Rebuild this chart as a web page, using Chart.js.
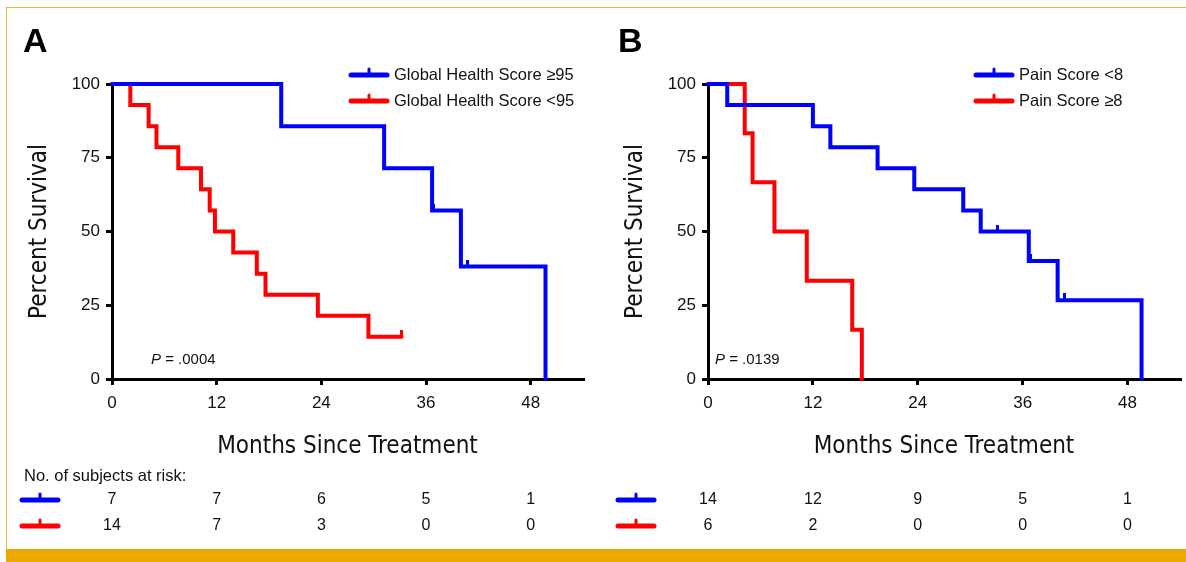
<!DOCTYPE html>
<html>
<head>
<meta charset="utf-8">
<script src="https://cdn.jsdelivr.net/npm/chart.js@4.4.0/dist/chart.umd.min.js"></script>
<style>
  html, body { margin: 0; padding: 0; background: #fff; }
  #page { position: relative; width: 1186px; height: 562px; overflow: hidden; background: #fff; }
  #frame { position: absolute; left: 6px; top: 7px; width: 1190px; height: 560px; border-left: 1px solid #f2b632; border-top: 1px solid #f2b632; }
  #band { position: absolute; left: 6px; right: 0; top: 549px; height: 13px; background: #eba800; }
  canvas { position: absolute; top: 0; }
  .letter { position: absolute; top: 23px; font: bold 34px "Liberation Sans", Arial, sans-serif; line-height: 34px; color: #000; }
  #atrisk { position: absolute; left: 24px; top: 466px; font: 16.5px "Liberation Sans", Arial, sans-serif; line-height: 18px; color: #111; }
</style>
</head>
<body>
<div id="page">
  <div id="frame"></div>
  <div id="band"></div>
  <canvas id="chartA" width="596" height="549" style="left:0px"></canvas>
  <canvas id="chartB" width="590" height="549" style="left:596px"></canvas>
  <div class="letter" style="left:23px">A</div>
  <div class="letter" style="left:618px">B</div>
  <div id="atrisk">No. of subjects at risk:</div>
</div>
<script>
// eje x (meses) y eje y (% sobrevida)
const xTicks = [0, 12, 24, 36, 48];
const yTicks = [0, 25, 50, 75, 100];

// Panel A - Global Health Score
const ghsHighMonths = [0, 19.4, 31.2, 36.7, 40.0, 49.7];
const ghsHighSurv = [100, 85.7, 71.4, 57.1, 38.1, 0];
const ghsHighCensMonths = [36.9, 40.8];
const ghsHighCensSurv = [57.1, 38.1];

const ghsLowMonths = [0, 2.1, 4.2, 5.1, 7.6, 10.2, 11.2, 11.8, 13.9, 16.6, 17.6, 23.6, 29.4, 33.2];
const ghsLowSurv = [100, 92.9, 85.7, 78.6, 71.4, 64.3, 57.1, 50.0, 42.9, 35.7, 28.6, 21.4, 14.3, 14.3];
const ghsLowCensMonths = [33.2];
const ghsLowCensSurv = [14.3];

// Panel B - Pain Score
const painLowMonths = [0, 2.2, 12.0, 14.0, 19.4, 23.6, 29.2, 31.2, 36.7, 40.0, 49.6];
const painLowSurv = [100, 92.9, 85.7, 78.6, 71.4, 64.3, 57.1, 50.0, 40.0, 26.7, 0];
const painLowCensMonths = [33.1, 36.9, 40.8];
const painLowCensSurv = [50.0, 40.0, 26.7];

const painHighMonths = [0, 4.2, 5.1, 7.6, 11.3, 16.5, 17.6];
const painHighSurv = [100, 83.3, 66.7, 50.0, 33.3, 16.7, 0];

// sujetos en riesgo en cada tick
const riskGhsHigh = [7, 7, 6, 5, 1];
const riskGhsLow = [14, 7, 3, 0, 0];
const riskPainLow = [14, 12, 9, 5, 1];
const riskPainHigh = [6, 2, 0, 0, 0];

const BLUE = "#0000ff";
const RED = "#ff0000";
const SANS = '"Liberation Sans", Arial, sans-serif';
const NARROW = '"Liberation Sans Narrow", "Arial Narrow", "DejaVu Sans Condensed", sans-serif';

function toPoints(xs, ys) {
  return xs.map((x, i) => ({ x: x, y: ys[i] }));
}

// marca de censura: barrita vertical sobre la curva
function censorMark(color) {
  const c = document.createElement("canvas");
  c.width = 3; c.height = 14;
  const g = c.getContext("2d");
  g.fillStyle = color;
  g.fillRect(0, 0, 3, 7);
  return c;
}

function curve(label, xs, ys, color) {
  return {
    label: label, data: toPoints(xs, ys), borderColor: color, borderWidth: 4,
    stepped: true, pointRadius: 0, fill: false, clip: false,
    borderCapStyle: "round", borderJoinStyle: "miter"
  };
}

function censors(xs, ys, color) {
  return {
    data: toPoints(xs, ys), showLine: false, pointStyle: censorMark(color),
    pointRadius: 4, clip: false
  };
}

function drawLegendIcon(ctx, x, y, color) {
  ctx.save();
  ctx.strokeStyle = color;
  ctx.lineCap = "round";
  ctx.lineWidth = 5;
  ctx.beginPath();
  ctx.moveTo(x, y);
  ctx.lineTo(x + 36, y);
  ctx.stroke();
  ctx.lineWidth = 3;
  ctx.beginPath();
  ctx.moveTo(x + 18, y);
  ctx.lineTo(x + 18, y - 6);
  ctx.stroke();
  ctx.restore();
}

// leyenda, valor P y tabla de riesgo
const extrasPlugin = {
  id: "extras",
  afterDraw(chart, args, opts) {
    const ctx = chart.ctx;
    const xs = chart.scales.x;
    ctx.save();
    ctx.textBaseline = "middle";
    ctx.fillStyle = "#111";
    ctx.font = "16.5px " + SANS;
    opts.legend.forEach((item, i) => {
      const y = opts.legendY[i];
      drawLegendIcon(ctx, opts.legendX, y, item.color);
      ctx.fillStyle = "#111";
      ctx.textAlign = "left";
      ctx.fillText(item.text, opts.legendX + 43, y);
    });

    // valor P
    ctx.font = "italic 15px " + SANS;
    ctx.fillText("P", opts.pX, opts.pY);
    const w = ctx.measureText("P").width;
    ctx.font = "15px " + SANS;
    ctx.fillText(" = " + opts.pValue, opts.pX + w, opts.pY);

    // sujetos en riesgo
    ctx.font = "16px " + SANS;
    ctx.textAlign = "center";
    opts.risk.forEach((row, r) => {
      const y = opts.riskY[r];
      drawLegendIcon(ctx, 22, y, row.color);
      ctx.fillStyle = "#111";
      row.values.forEach((v, i) => {
        ctx.fillText(String(v), xs.getPixelForValue(xTicks[i]), y);
      });
    });
    ctx.restore();
  }
};

function makeChart(id, datasets, extras, rightPad) {
  const axisCommon = {
    type: "linear",
    border: { display: true, color: "#000", width: 3 },
    grid: { drawOnChartArea: false, color: "#000", lineWidth: 3, tickLength: 6 },
  };
  return new Chart(document.getElementById(id), {
    type: "line",
    data: { datasets: datasets },
    options: {
      responsive: false,
      animation: false,
      layout: { padding: { left: 25, top: 84, right: rightPad, bottom: 88 } },
      plugins: { legend: { display: false }, tooltip: { enabled: false }, extras: extras },
      scales: {
        x: Object.assign({}, axisCommon, {
          min: 0, max: 54,
          afterBuildTicks: s => { s.ticks = xTicks.map(v => ({ value: v })); },
          afterFit: s => { s.height = 82; },
          ticks: { color: "#111", font: { family: SANS, size: 17 }, padding: 8, maxRotation: 0, autoSkip: false },
          title: { display: true, text: "Months Since Treatment", color: "#111", font: { family: NARROW, size: 24 }, padding: 0 }
        }),
        y: Object.assign({}, axisCommon, {
          min: 0, max: 100,
          afterBuildTicks: s => { s.ticks = yTicks.map(v => ({ value: v })); },
          afterFit: s => { s.width = 87; },
          ticks: { color: "#111", font: { family: SANS, size: 17 }, padding: 6 },
          title: { display: true, text: "Percent Survival", color: "#111", font: { family: NARROW, size: 24 }, padding: 0 }
        })
      }
    },
    plugins: [extrasPlugin]
  });
}

makeChart("chartA", [
  curve("Global Health Score \u226595", ghsHighMonths, ghsHighSurv, BLUE),
  censors(ghsHighCensMonths, ghsHighCensSurv, BLUE),
  curve("Global Health Score <95", ghsLowMonths, ghsLowSurv, RED),
  censors(ghsLowCensMonths, ghsLowCensSurv, RED)
], {
  legend: [{ text: "Global Health Score \u226595", color: BLUE }, { text: "Global Health Score <95", color: RED }],
  legendX: 351, legendY: [75, 101],
  pValue: ".0004", pX: 151, pY: 360,
  risk: [{ color: BLUE, values: riskGhsHigh }, { color: RED, values: riskGhsLow }],
  riskY: [500, 526]
}, 13);

makeChart("chartB", [
  curve("Pain Score <8", painLowMonths, painLowSurv, BLUE),
  censors(painLowCensMonths, painLowCensSurv, BLUE),
  curve("Pain Score \u22658", painHighMonths, painHighSurv, RED)
], {
  legend: [{ text: "Pain Score <8", color: BLUE }, { text: "Pain Score \u22658", color: RED }],
  legendX: 380, legendY: [75, 101],
  pValue: ".0139", pX: 119, pY: 360,
  risk: [{ color: BLUE, values: riskPainLow }, { color: RED, values: riskPainHigh }],
  riskY: [500, 526]
}, 6);
</script>
</body>
</html>
